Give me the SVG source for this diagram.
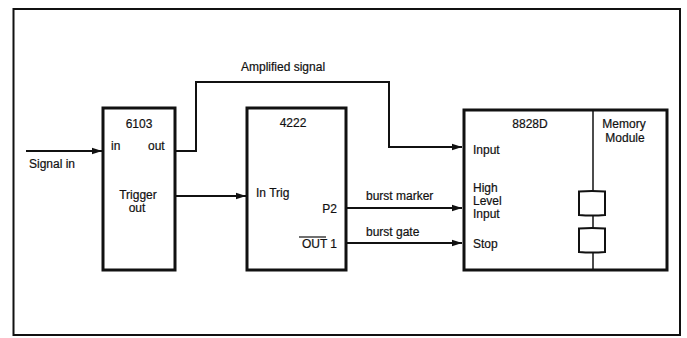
<svg xmlns="http://www.w3.org/2000/svg" width="687" height="338" viewBox="0 0 687 338">
<defs>
<marker id="ah" markerWidth="10" markerHeight="8" refX="10" refY="4" orient="auto" markerUnits="userSpaceOnUse">
<path d="M0,0.8 L10,4 L0,7.2 Z" fill="#111"/>
</marker>
<style>
.box{fill:#fff;stroke:#111;stroke-width:3}
.ln{fill:none;stroke:#111;stroke-width:2}
.thin{fill:none;stroke:#111;stroke-width:1.5}
text{font-family:"Liberation Sans",Arial,sans-serif;font-size:12px;fill:#111;stroke:#111;stroke-width:0.2}
.c{text-anchor:middle}
.e{text-anchor:end}
</style>
</defs>
<rect width="687" height="338" fill="#fff"/>
<rect x="13.5" y="9" width="666.5" height="326" fill="none" stroke="#111" stroke-width="2"/>
<g id="connectors">
<line class="ln" x1="26" y1="151" x2="102" y2="151" marker-end="url(#ah)"/>
<polyline class="ln" points="176,151 196,151 196,82 389,82 389,147 462,147" marker-end="url(#ah)"/>
<line class="ln" x1="176" y1="196" x2="246" y2="196" marker-end="url(#ah)"/>
<line class="ln" x1="347" y1="208" x2="462" y2="208" marker-end="url(#ah)"/>
<line class="ln" x1="347" y1="243" x2="462" y2="243" marker-end="url(#ah)"/>
<text x="241" y="71">Amplified signal</text>
<text x="29" y="168">Signal in</text>
<text x="366" y="200">burst marker</text>
<text x="366" y="236">burst gate</text>
</g>
<g id="n6103">
<rect class="box" x="103" y="108" width="72" height="162"/>
<text class="c" x="139" y="128">6103</text>
<text x="111" y="150">in</text>
<text x="148" y="150">out</text>
<text class="c" x="138" y="199">Trigger</text>
<text class="c" x="137" y="212">out</text>
</g>
<g id="n4222">
<rect class="box" x="247" y="108" width="99" height="162"/>
<text class="c" x="293" y="127">4222</text>
<text x="256" y="197">In Trig</text>
<text class="e" x="337" y="213">P2</text>
<text class="e" x="337" y="248">OUT 1</text>
<line x1="299" y1="237" x2="326" y2="237" stroke="#111" stroke-width="1.2"/>
</g>
<g id="n8828D">
<rect class="box" x="464" y="110" width="203" height="160"/>
<text class="c" x="530" y="128">8828D</text>
<text x="473" y="154">Input</text>
<text x="473" y="192">High</text>
<text x="473" y="205">Level</text>
<text x="473" y="218">Input</text>
<text x="473" y="248">Stop</text>
</g>
<g id="memory">
<line class="thin" x1="593" y1="110" x2="593" y2="191"/>
<path class="ln" d="M579,191.5 Q592,190.5 605,191.5 L605,215 Q592,216 579,215 Z"/>
<line class="thin" x1="593" y1="216" x2="593" y2="228"/>
<path class="ln" d="M579,228.5 Q592,227.5 605,228.5 L605,252 Q592,253 579,252 Z"/>
<line class="thin" x1="593" y1="253" x2="593" y2="270"/>
<text class="c" x="624" y="128">Memory</text>
<text class="c" x="625" y="142">Module</text>
</g>
</svg>
